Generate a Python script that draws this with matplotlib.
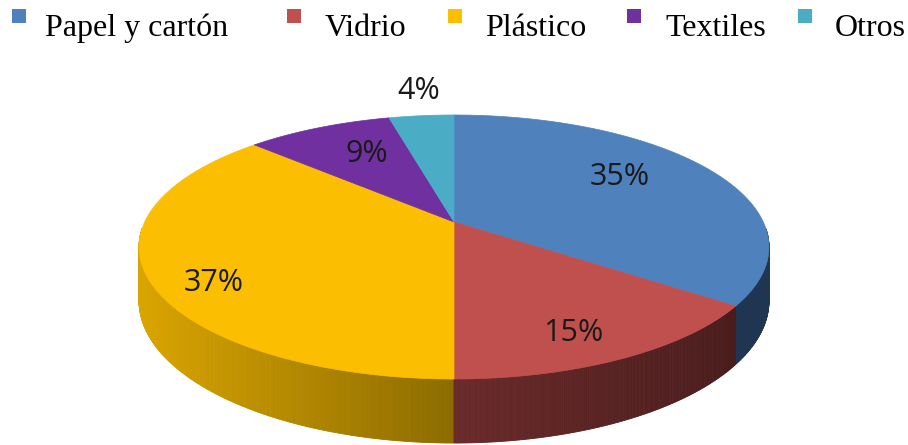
import numpy as np
import matplotlib
matplotlib.use("Agg")
import matplotlib.pyplot as plt
from matplotlib.patches import Polygon, Rectangle
from matplotlib.colors import to_rgb

# data
categories = ["Papel y cartón", "Vidrio", "Plástico", "Textiles", "Otros"]
values = [35, 15, 37, 9, 4]
top_colors = ["#4F81BD", "#C0504D", "#FBBE00", "#7030A0", "#4BACC6"]
# side colours: (left / light, right / dark)
side_colors = [("#1F3552", "#1F3552"), ("#6A2A2A", "#4A1C1C"), ("#DAA500", "#8C6B00"),
               ("#3E1A5A", "#3E1A5A"), ("#2A6070", "#2A6070")]

# perspective geometry (pixels)
cx, cy = 454, 222
d, R, H, T = 5.28, 1633, 672, 274


def proj(theta, depth=0.0, r=1.0):
    t = np.radians(theta)
    u, v = r * np.sin(t), -r * np.cos(t)
    w = d - v
    return cx + R * u / w, cy + H * v / w + depth * T / w


fig = plt.figure(figsize=(9.08, 4.45), dpi=100)
ax = fig.add_axes([0, 0, 1, 1])
ax.set_xlim(0, 908)
ax.set_ylim(445, 0)
ax.axis("off")

total = sum(values)
bounds = np.concatenate([[0], np.cumsum(values)]) / total * 360

# sides
quads = []
for i in range(len(values)):
    a0, a1 = bounds[i], bounds[i + 1]
    ths = np.linspace(a0, a1, int((a1 - a0) * 3) + 2)
    xs = [proj(t)[0] for t in ths if -np.cos(np.radians(t)) > 0.05]
    if not xs:
        continue
    xmin, xmax = min(xs), max(xs)
    c0, c1 = np.array(to_rgb(side_colors[i][0])), np.array(to_rgb(side_colors[i][1]))
    for ta, tb in zip(ths[:-1], ths[1:]):
        vm = -np.cos(np.radians((ta + tb) / 2))
        if vm < 0.05:
            continue
        pts = [proj(ta), proj(tb), proj(tb, 1), proj(ta, 1)]
        xm = (pts[0][0] + pts[1][0]) / 2
        f = 0 if xmax == xmin else (xm - xmin) / (xmax - xmin)
        col = c0 + (c1 - c0) * f
        quads.append((vm, pts, col))

for vm, pts, col in sorted(quads, key=lambda q: q[0]):
    ax.add_patch(Polygon(pts, closed=True, facecolor=col, edgecolor=col, lw=0.6))

# top faces
for i in range(len(values)):
    ths = np.linspace(bounds[i], bounds[i + 1], 200)
    pts = [(cx, cy)] + [proj(t) for t in ths]
    ax.add_patch(Polygon(pts, closed=True, facecolor=top_colors[i],
                         edgecolor=top_colors[i], lw=0.5))

# percentage labels
label_pos = [(620, 177), (573, 333), (214, 283), (367, 154), (419, 91)]
for v, (x, y) in zip(values, label_pos):
    ax.text(x, y, f"{v}%", ha="center", va="center", fontsize=22,
            family="Open Sans", color="#1a1a1a")

# legend
leg_sq = [12, 287, 448, 627, 798]
leg_tx = [45, 325, 485, 665, 835]
for name, col, sx, tx in zip(categories, top_colors, leg_sq, leg_tx):
    ax.add_patch(Rectangle((sx, 9), 14, 14, facecolor=col, edgecolor="none"))
    ax.text(tx, 36, name, ha="left", va="baseline", fontsize=23,
            family="Liberation Serif", color="black")

fig.savefig("out.png", dpi=100)
